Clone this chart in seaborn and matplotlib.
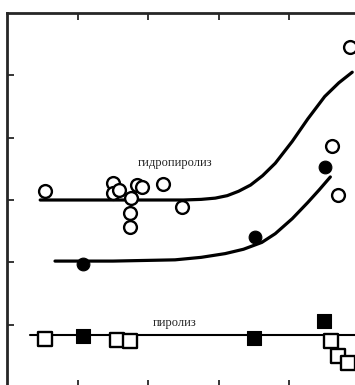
import matplotlib
matplotlib.use("Agg")
import matplotlib.pyplot as plt
import pandas as pd
import seaborn as sns

# open circles - hydropyrolysis
open_circ_x = [0.54, 1.50, 1.50, 1.59, 1.76, 1.84, 1.91, 2.21, 2.48, 1.74, 1.74, 4.60, 4.69, 4.86]
open_circ_y = [3.14, 3.27, 3.11, 3.16, 3.04, 3.24, 3.21, 3.25, 2.88, 2.79, 2.56, 3.86, 3.08, 5.45]

# filled circles
fill_circ_x = [1.08, 3.51, 4.50]
fill_circ_y = [1.97, 2.40, 3.53]

# open squares - pyrolysis
open_sq_x = [0.54, 1.56, 1.74, 4.59, 4.69, 4.83]
open_sq_y = [0.77, 0.75, 0.74, 0.74, 0.50, 0.38]

# filled squares
fill_sq_x = [1.08, 3.50, 4.49]
fill_sq_y = [0.82, 0.79, 1.06]

# fitted curves
upper_x = [0.47, 1.5, 2.5, 2.75, 2.95, 3.12, 3.28, 3.45, 3.62, 3.80, 4.04, 4.26, 4.50, 4.70, 4.89]
upper_y = [3.00, 3.0, 3.0, 3.01, 3.03, 3.07, 3.14, 3.24, 3.39, 3.59, 3.94, 4.30, 4.66, 4.88, 5.05]
lower_x = [0.68, 1.5, 2.38, 2.75, 3.09, 3.35, 3.61, 3.80, 4.04, 4.26, 4.42, 4.58]
lower_y = [2.02, 2.02, 2.04, 2.08, 2.14, 2.21, 2.32, 2.46, 2.70, 2.96, 3.16, 3.37]
pyro_x = [0.33, 5.0]
pyro_y = [0.83, 0.83]

labels = ["гидропиролиз", "пиролиз"]

sns.set_style("ticks")
plt.rcParams['font.family'] = ['Liberation Serif', 'DejaVu Serif']

fig = plt.figure(figsize=(3.55, 3.85), dpi=100)
ax = fig.add_axes([7 / 355, -2 / 385, 353 / 355, 374 / 385])

sns.lineplot(x=upper_x, y=upper_y, sort=False, estimator=None, color='black', lw=2.3, ax=ax)
sns.lineplot(x=lower_x, y=lower_y, sort=False, estimator=None, color='black', lw=2.3, ax=ax)
sns.lineplot(x=pyro_x, y=pyro_y, sort=False, estimator=None, color='black', lw=1.5, ax=ax)

sns.scatterplot(x=open_circ_x, y=open_circ_y, marker='o', s=85, facecolor='white',
                edgecolor='black', linewidth=1.7, ax=ax, zorder=3)
sns.scatterplot(x=fill_circ_x, y=fill_circ_y, marker='o', s=85, color='black',
                edgecolor='black', ax=ax, zorder=3)
sns.scatterplot(x=open_sq_x, y=open_sq_y, marker='s', s=95, facecolor='white',
                edgecolor='black', linewidth=1.7, ax=ax, zorder=3)
sns.scatterplot(x=fill_sq_x, y=fill_sq_y, marker='s', s=95, color='black',
                edgecolor='black', ax=ax, zorder=3)

ax.text(2.38, 3.59, labels[0], ha='center', va='center', fontsize=9)
ax.text(2.37, 1.03, labels[1], ha='center', va='center', fontsize=9)

ax.set_xlim(0, 5)
ax.set_ylim(0, 6)
ax.set_xticks([1, 2, 3, 4])
ax.set_yticks([1, 2, 3, 4, 5])
ax.set_xticklabels([])
ax.set_yticklabels([])
ax.tick_params(direction='in', length=5, width=1.3, top=True, right=False)
for side in ['top', 'left']:
    ax.spines[side].set_linewidth(2)
ax.spines['right'].set_visible(False)
ax.set_xlabel('')
ax.set_ylabel('')

fig.savefig('out.png', dpi=100)
